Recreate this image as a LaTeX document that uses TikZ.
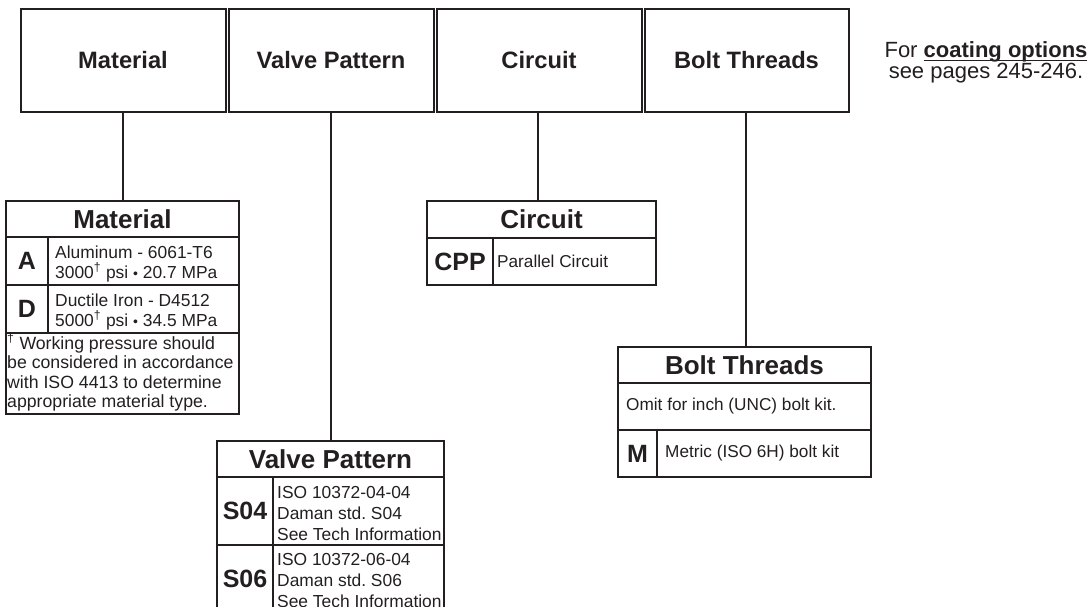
\documentclass[tikz,border=0pt]{standalone}
\usepackage{fontspec}
\setmainfont{Liberation Sans}
\definecolor{ink}{HTML}{231F20}
\newcommand{\smallbul}{{\fontsize{14}{14}\selectfont •}}
\newcommand{\thickul}[1]{{\setbox0\hbox{#1}\rlap{\raisebox{-4.2pt}{\rule{\wd0}{1.4pt}}}\box0}}
\begin{document}
\frenchspacing
\begin{tikzpicture}[x=1pt,y=-1pt,
  topbox/.style={draw=ink, line width=2pt, minimum width=205pt, minimum height=103pt,
    inner sep=0pt, outer sep=0pt, font=\fontsize{23.7}{28}\selectfont\bfseries, text=ink},
  ttitle/.style={draw=ink, line width=2.4pt, inner sep=0pt, outer sep=0pt,
    font=\fontsize{26}{30}\selectfont\bfseries, text=ink},
  codetxt/.style={font=\fontsize{25}{30}\selectfont\bfseries, text=ink, inner sep=0pt},
  body/.style={font=\fontsize{17.4}{20}\selectfont, text=ink, inner sep=0pt, anchor=base west},
  foot/.style={font=\fontsize{17.7}{20}\selectfont, text=ink, inner sep=0pt, anchor=base west},
  bodyc/.style={font=\fontsize{17.2}{20}\selectfont, text=ink, inner sep=0pt, anchor=west},
  note/.style={font=\fontsize{22}{26}\selectfont, text=ink, inner sep=0pt, anchor=base},
  tabframe/.style={draw=ink, line width=2.4pt},
  tabrule/.style={draw=ink, line width=1.5pt},
  link/.style={draw=ink, line width=2.4pt}
]
\useasboundingbox (0,0) rectangle (1087,606);

% top row
\node[topbox] (tmat) at (123,60.5) {Material};
\node[topbox] (tval) at (331,60.5) {Valve Pattern};
\node[topbox] (tcir) at (539,60.5) {Circuit};
\node[topbox, minimum width=204pt] (tbol) at (746.5,60.5) {Bolt Threads};

% note
\node[note] (n1) at (986,57) {For \textbf{\thickul{coating options}}};
\node[note] (n2) at (986,78) {see pages 245-246.};

% Material table
\draw[tabframe] (6,201) rectangle (239,414);
\draw[tabrule] (6,285) -- (239,285);
\draw[tabrule] (6,333) -- (239,333);
\draw[tabrule] (48,237) -- (48,333);
\node[ttitle, minimum width=233pt, minimum height=36pt] (mtitle) at (122.5,219) {Material};
\node[codetxt] (mA) at (27,261) {A};
\node[body] (mA1) at (55,258) {Aluminum - 6061-T6};
\node[body] (mA2) at (55,278) {3000\textsuperscript{†} psi \smallbul\ 20.7 MPa};
\node[codetxt] (mD) at (27,309) {D};
\node[body] (mD1) at (55,306) {Ductile Iron - D4512};
\node[body] (mD2) at (55,326) {5000\textsuperscript{†} psi \smallbul\ 34.5 MPa};
\node[foot] (mf1) at (7,349) {\textsuperscript{†} Working pressure should};
\node[foot] (mf2) at (7,368.5) {be considered in accordance};
\node[foot] (mf3) at (7,388) {with ISO 4413 to determine};
\node[foot] (mf4) at (7,407.5) {appropriate material type.};

% Valve Pattern table
\draw[tabframe] (217,441) rectangle (444,613);
\draw[tabrule] (217,545) -- (444,545);
\draw[tabrule] (273,477) -- (273,613);
\node[ttitle, minimum width=227pt, minimum height=36pt] (vtitle) at (330.5,459) {Valve Pattern};
\node[codetxt] (v4) at (245,511) {S04};
\node[body] (v41) at (277,498) {ISO 10372-04-04};
\node[body] (v42) at (277,519) {Daman std.\ S04};
\node[body] (v43) at (277,540) {See Tech Information};
\node[codetxt] (v6) at (245,579) {S06};
\node[body] (v61) at (277,565) {ISO 10372-06-04};
\node[body] (v62) at (277,586) {Daman std.\ S06};
\node[body] (v63) at (277,607) {See Tech Information};

% Circuit table
\draw[tabframe] (427,201) rectangle (656,285);
\draw[tabrule] (493,238) -- (493,285);
\node[ttitle, minimum width=229pt, minimum height=37pt] (ctitle) at (541.5,219.5) {Circuit};
\node[codetxt] (cC) at (460,261.5) {CPP};
\node[bodyc] (cC1) at (497,261.5) {Parallel Circuit};

% Bolt Threads table
\draw[tabframe] (618,347) rectangle (871,477);
\draw[tabrule] (618,430) -- (871,430);
\draw[tabrule] (657,430) -- (657,477);
\node[ttitle, minimum width=253pt, minimum height=36pt] (btitle) at (744.5,365) {Bolt Threads};
\node[bodyc] (bO) at (626,406.5) {Omit for inch (UNC) bolt kit.};
\node[codetxt] (bM) at (637.5,453.5) {M};
\node[bodyc] (bM1) at (665,453.5) {Metric (ISO 6H) bolt kit};

% connectors
\draw[link] (tmat.south) -- (tmat.south |- mtitle.north);
\draw[link] (tval.south) -- (tval.south |- vtitle.north);
\draw[link] ([xshift=-1pt]tcir.south) -- ([xshift=-1pt]tcir.south |- ctitle.north);
\draw[link] ([xshift=-0.5pt]tbol.south) -- ([xshift=-0.5pt]tbol.south |- btitle.north);
\end{tikzpicture}
\end{document}
